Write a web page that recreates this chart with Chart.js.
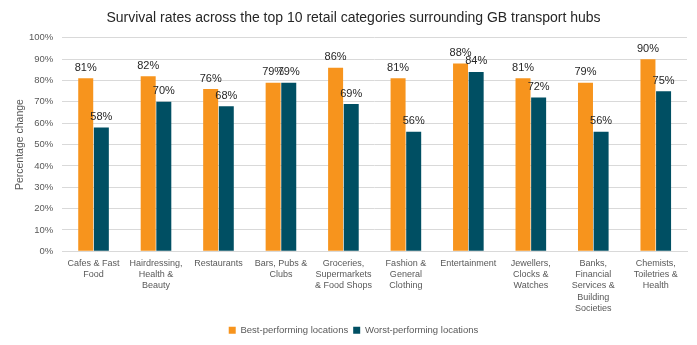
<!DOCTYPE html>
<html>
<head>
<meta charset="utf-8">
<script src="https://cdn.jsdelivr.net/npm/chart.js@4.4.1/dist/chart.umd.min.js"></script>
<style>
 html, body { margin: 0; padding: 0; background: #fff; }
 #wrap { width: 697px; height: 345px; }
</style>
</head>
<body>
<div id="wrap"><canvas id="myChart" width="697" height="345"></canvas></div>
<script>
// categories (multi-line labels as in the original)
var categories = [
  ['Cafes & Fast', 'Food'],
  ['Hairdressing,', 'Health &', 'Beauty'],
  ['Restaurants'],
  ['Bars, Pubs &', 'Clubs'],
  ['Groceries,', 'Supermarkets', '& Food Shops'],
  ['Fashion &', 'General', 'Clothing'],
  ['Entertainment'],
  ['Jewellers,', 'Clocks &', 'Watches'],
  ['Banks,', 'Financial', 'Services &', 'Building', 'Societies'],
  ['Chemists,', 'Toiletries &', 'Health']
];
var bestValues = [81, 82, 76, 79, 86, 81, 88, 81, 79, 90];
var worstValues = [58, 70, 68, 79, 69, 56, 84, 72, 56, 75];
var yTicks = [0, 10, 20, 30, 40, 50, 60, 70, 80, 90, 100];
var yTitle = 'Percentage change';

var FONT = "'Liberation Sans', Arial, sans-serif";

// labels on top of bars + y axis title
var barLabels = {
  id: 'barLabels',
  afterDatasetsDraw: function (chart) {
    var ctx = chart.ctx;
    ctx.save();
    ctx.font = '11px ' + FONT;
    ctx.fillStyle = '#262626';
    ctx.textAlign = 'center';
    ctx.textBaseline = 'bottom';
    chart.data.datasets.forEach(function (ds, i) {
      var meta = chart.getDatasetMeta(i);
      meta.data.forEach(function (bar, j) {
        ctx.fillText(ds.data[j] + '%', bar.x, bar.y - 5);
      });
    });
    ctx.restore();

    var area = chart.chartArea;
    ctx.save();
    ctx.translate(20, (area.top + area.bottom) / 2);
    ctx.rotate(-Math.PI / 2);
    ctx.font = '10.5px ' + FONT;
    ctx.fillStyle = '#595959';
    ctx.textAlign = 'center';
    ctx.textBaseline = 'middle';
    ctx.fillText(yTitle, 0, 0);
    ctx.restore();
  }
};

var ctx = document.getElementById('myChart').getContext('2d');
window.chart = new Chart(ctx, {
  type: 'bar',
  data: {
    labels: categories,
    datasets: [
      {
        label: 'Best-performing locations',
        data: bestValues,
        backgroundColor: '#F7941D',
        barPercentage: 0.96,
        categoryPercentage: 0.5
      },
      {
        label: 'Worst-performing locations',
        data: worstValues,
        backgroundColor: '#004F63',
        barPercentage: 0.96,
        categoryPercentage: 0.5
      }
    ]
  },
  options: {
    responsive: false,
    animation: false,
    layout: { padding: { left: 20, right: 10, top: 0, bottom: 0 } },
    plugins: {
      title: {
        display: true,
        text: 'Survival rates across the top 10 retail categories surrounding GB transport hubs',
        color: '#262626',
        font: { family: FONT, size: 14, weight: 'normal' },
        padding: { top: 10, bottom: 11 }
      },
      legend: {
        position: 'bottom',
        labels: {
          boxWidth: 7,
          boxHeight: 7,
          color: '#595959',
          font: { family: FONT, size: 9.5 },
          padding: 5
        }
      },
      tooltip: { enabled: false }
    },
    scales: {
      x: {
        grid: { display: false, drawTicks: false, tickLength: 0 },
        border: { color: '#d9d9d9' },
        ticks: {
          color: '#595959',
          font: { family: FONT, size: 9, lineHeight: 1.27 },
          padding: 6,
          maxRotation: 0,
          autoSkip: false
        }
      },
      y: {
        min: 0,
        max: 100,
        afterBuildTicks: function (axis) {
          axis.ticks = yTicks.map(function (v) { return { value: v }; });
        },
        grid: { color: '#d9d9d9', drawTicks: false },
        border: { display: false },
        ticks: {
          color: '#595959',
          font: { family: FONT, size: 9.5 },
          padding: 9,
          callback: function (v) { return v + '%'; }
        }
      }
    }
  },
  plugins: [barLabels]
});
</script>
</body>
</html>
